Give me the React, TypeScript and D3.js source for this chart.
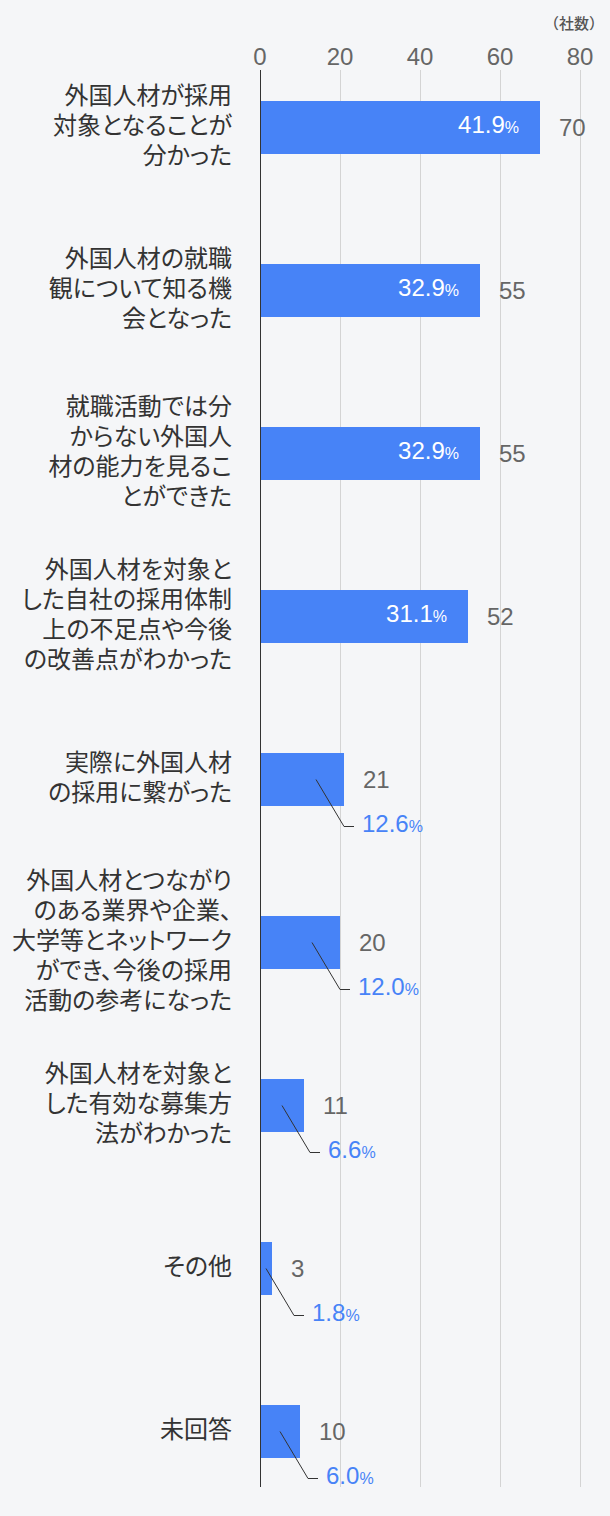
import React, { useEffect, useRef } from 'react';
import * as d3 from 'd3';

// 回答カテゴリ(改行位置は元図のとおり)
const categories: string[][] = [
  ['外国人材が採用', '対象となることが', '分かった'],
  ['外国人材の就職', '観について知る機', '会となった'],
  ['就職活動では分', 'からない外国人', '材の能力を見るこ', 'とができた'],
  ['外国人材を対象と', 'した自社の採用体制', '上の不足点や今後', 'の改善点がわかった'],
  ['実際に外国人材', 'の採用に繋がった'],
  ['外国人材とつながり', 'のある業界や企業、', '大学等とネットワーク', 'ができ、今後の採用', '活動の参考になった'],
  ['外国人材を対象と', 'した有効な募集方', '法がわかった'],
  ['その他'],
  ['未回答'],
];
const counts: number[] = [70, 55, 55, 52, 21, 20, 11, 3, 10];
const percents: string[] = ['41.9', '32.9', '32.9', '31.1', '12.6', '12.0', '6.6', '1.8', '6.0'];
const xTicks: number[] = [0, 20, 40, 60, 80];
const unitLabel = '（社数）';

const W = 610;
const H = 1516;
const BLUE = '#4783f7';
const JP = '"Noto Sans CJK JP", "Noto Sans", sans-serif';
const NUM = '"Liberation Sans", Arial, sans-serif';

const App: React.FC = () => {
  const ref = useRef<SVGSVGElement | null>(null);

  useEffect(() => {
    const svg = d3.select(ref.current);
    svg.selectAll('*').remove();
    svg.attr('width', W).attr('height', H);

    svg.append('rect').attr('width', W).attr('height', H).attr('fill', '#f5f6f8');

    const x = d3.scaleLinear().domain([0, 80]).range([260, 580]);
    const idx = categories.map((_, i) => String(i));
    const y = d3.scaleBand().domain(idx).range([46, 1513]).paddingInner(0.675).paddingOuter(0.3375);
    const gridTop = 70;
    const gridBottom = 1487;

    // grid
    svg.append('g')
      .selectAll('line')
      .data(xTicks.filter(t => t !== 0))
      .join('line')
      .attr('x1', d => x(d) + 0.5).attr('x2', d => x(d) + 0.5)
      .attr('y1', gridTop).attr('y2', gridBottom)
      .attr('stroke', '#d4d4d4').attr('stroke-width', 1);

    // tick labels
    svg.append('g')
      .selectAll('text')
      .data(xTicks)
      .join('text')
      .attr('x', d => x(d))
      .attr('y', 57)
      .attr('dy', '0.35em')
      .attr('text-anchor', 'middle')
      .attr('font-family', NUM)
      .attr('font-size', 24)
      .attr('fill', '#666')
      .text(d => d);

    svg.append('text')
      .attr('x', 604).attr('y', 24).attr('dy', '0.35em')
      .attr('text-anchor', 'end')
      .attr('font-family', JP).attr('font-size', 15).attr('font-weight', 500).attr('fill', '#555')
      .text(unitLabel);

    const bh = y.bandwidth();

    // bars
    svg.append('g')
      .selectAll('rect')
      .data(counts)
      .join('rect')
      .attr('x', x(0))
      .attr('y', (_, i) => y(String(i)) as number)
      .attr('width', d => x(d) - x(0))
      .attr('height', bh)
      .attr('fill', BLUE);

    // axis line at 0
    svg.append('line')
      .attr('x1', x(0) + 0.5).attr('x2', x(0) + 0.5)
      .attr('y1', gridTop).attr('y2', gridBottom)
      .attr('stroke', '#333').attr('stroke-width', 1);

    // category labels
    categories.forEach((lines, i) => {
      const cy = (y(String(i)) as number) + bh / 2;
      const lh = 30;
      const t = svg.append('text')
        .attr('text-anchor', 'end')
        .attr('font-family', JP)
        .attr('font-size', 24)
        .attr('fill', '#333')
        .style('font-feature-settings', '"palt"');
      lines.forEach((ln, k) => {
        t.append('tspan')
          .attr('x', 232)
          .attr('y', cy - 2 + (k - (lines.length - 1) / 2) * lh)
          .attr('dy', '0.35em')
          .text(ln);
      });
    });

    counts.forEach((v, i) => {
      const cy = (y(String(i)) as number) + bh / 2;
      const end = x(v);
      // count label
      svg.append('text')
        .attr('x', end + 19).attr('y', cy).attr('dy', '0.35em')
        .attr('font-family', NUM).attr('font-size', 24).attr('fill', '#666')
        .text(v);

      if (v >= 50) {
        const t = svg.append('text')
          .attr('x', end - 21).attr('y', cy).attr('dy', '0.35em')
          .attr('text-anchor', 'end')
          .attr('font-family', NUM).attr('fill', '#fff');
        t.append('tspan').attr('font-size', 24).text(percents[i]);
        t.append('tspan').attr('font-size', 16).text('%');
      } else {
        const w = end - x(0);
        const sx = end - Math.min(28, w / 2);
        const ex = sx + 28;
        const ey = cy + 47;
        svg.append('path')
          .attr('d', `M${sx},${cy}L${ex},${ey}H${ex + 10}`)
          .attr('fill', 'none').attr('stroke', '#333').attr('stroke-width', 1);
        const t = svg.append('text')
          .attr('x', ex + 18).attr('y', ey).attr('dy', '0.35em')
          .attr('font-family', NUM).attr('fill', BLUE);
        t.append('tspan').attr('font-size', 24).text(percents[i]);
        t.append('tspan').attr('font-size', 16).text('%');
      }
    });
  }, []);

  return (
    <div style={{ position: 'absolute', left: 0, top: 0 }}>
      <svg ref={ref} style={{ display: 'block' }}></svg>
    </div>
  );
};

export default App;
